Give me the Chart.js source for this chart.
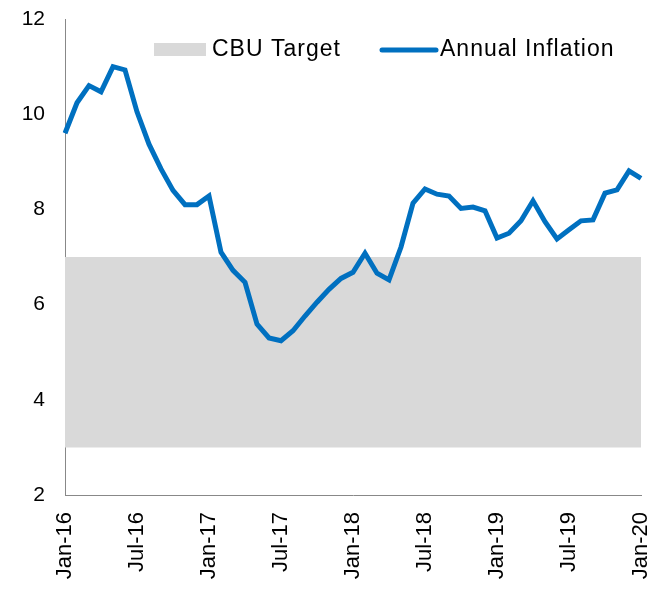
<!DOCTYPE html>
<html>
<head>
<meta charset="utf-8">
<script src="https://cdn.jsdelivr.net/npm/chart.js@4.4.1/dist/chart.umd.min.js"></script>
<style>
  html, body { margin: 0; padding: 0; background: #fff; }
  #wrap { width: 659px; height: 589px; }
</style>
</head>
<body>
<div id="wrap"><canvas id="inflationChart"></canvas></div>
<script>
const months = [
    'Jan-16', 'Feb-16', 'Mar-16', 'Apr-16', 'May-16', 'Jun-16', 'Jul-16', 'Aug-16', 'Sep-16', 'Oct-16', 'Nov-16', 'Dec-16',
    'Jan-17', 'Feb-17', 'Mar-17', 'Apr-17', 'May-17', 'Jun-17', 'Jul-17', 'Aug-17', 'Sep-17', 'Oct-17', 'Nov-17', 'Dec-17',
    'Jan-18', 'Feb-18', 'Mar-18', 'Apr-18', 'May-18', 'Jun-18', 'Jul-18', 'Aug-18', 'Sep-18', 'Oct-18', 'Nov-18', 'Dec-18',
    'Jan-19', 'Feb-19', 'Mar-19', 'Apr-19', 'May-19', 'Jun-19', 'Jul-19', 'Aug-19', 'Sep-19', 'Oct-19', 'Nov-19', 'Dec-19',
    'Jan-20'
];

const annualInflation = [
    9.6, 10.24, 10.6, 10.47, 11.0, 10.93, 10.05, 9.37, 8.85, 8.4, 8.1, 8.1,
    8.28, 7.1, 6.72, 6.47, 5.59, 5.3, 5.24, 5.45, 5.76, 6.05, 6.32, 6.55,
    6.68, 7.08, 6.66, 6.52, 7.21, 8.13, 8.43, 8.32, 8.28, 8.02, 8.05, 7.97,
    7.4, 7.5, 7.76, 8.18, 7.74, 7.38, 7.57, 7.76, 7.78, 8.34, 8.41, 8.81,
    8.65
];

// CBU target corridor (low, high)
const cbuTarget = [3, 7];

const yTicks = [2, 4, 6, 8, 10, 12];

const fontFamily = '"Liberation Sans", Arial, sans-serif';
const blue = '#0070C0';
const grey = '#D9D9D9';

// legend drawn inside the plot area, like the original
const insideLegend = {
    id: 'insideLegend',
    afterDraw(chart) {
        const ctx = chart.ctx;
        ctx.save();
        ctx.font = '23px ' + fontFamily;
        ctx.letterSpacing = '1px';
        ctx.textBaseline = 'middle';

        const y = 50;
        ctx.fillStyle = grey;
        ctx.fillRect(154, 43, 52, 13);
        ctx.fillStyle = '#000';
        ctx.fillText(chart.data.datasets[1].label, 212, y);

        ctx.strokeStyle = blue;
        ctx.lineWidth = 5;
        ctx.lineCap = 'round';
        ctx.beginPath();
        ctx.moveTo(382, y);
        ctx.lineTo(436, y);
        ctx.stroke();
        ctx.fillText(chart.data.datasets[0].label, 440, y);
        ctx.restore();
    }
};

const chart = new Chart(document.getElementById('inflationChart'), {
    type: 'line',
    data: {
        labels: months,
        datasets: [{
            label: 'Annual Inflation',
            data: annualInflation,
            borderColor: blue,
            borderWidth: 5,
            pointRadius: 0,
            tension: 0,
            fill: false
        }, {
            label: 'CBU Target',
            data: months.map(() => cbuTarget[1]),
            borderWidth: 0,
            borderColor: 'rgba(0,0,0,0)',
            backgroundColor: grey,
            pointRadius: 0,
            fill: '+1'
        }, {
            label: 'CBU Target low',
            data: months.map(() => cbuTarget[0]),
            borderWidth: 0,
            borderColor: 'rgba(0,0,0,0)',
            pointRadius: 0,
            fill: false
        }]
    },
    options: {
        responsive: true,
        maintainAspectRatio: false,
        animation: false,
        layout: {
            padding: { left: 22, right: 18, top: 19, bottom: 0 }
        },
        scales: {
            x: {
                offset: false,
                grid: { display: false, drawTicks: false },
                border: { display: true, color: '#888', width: 1 },
                ticks: {
                    autoSkip: false,
                    maxRotation: 90,
                    minRotation: 90,
                    padding: 17,
                    color: '#000',
                    font: { family: fontFamily, size: 22 },
                    callback: function (value, index) {
                        return index % 6 === 0 ? months[index] : '';
                    }
                },
                afterFit: function (axis) {
                    axis.paddingLeft = 0;
                    axis.paddingRight = 0;
                    axis.height = 94;
                }
            },
            y: {
                min: yTicks[0],
                max: yTicks[yTicks.length - 1],
                grid: { display: false, drawTicks: false },
                border: { display: true, color: '#888', width: 1 },
                afterBuildTicks: function (axis) {
                    axis.ticks = yTicks.map(v => ({ value: v }));
                },
                ticks: {
                    padding: 20,
                    color: '#000',
                    font: { family: fontFamily, size: 21 }
                },
                afterFit: function (axis) {
                    axis.paddingTop = 0;
                    axis.paddingBottom = 0;
                    axis.width = 43;
                }
            }
        },
        plugins: {
            legend: { display: false },
            tooltip: { enabled: false }
        }
    },
    plugins: [insideLegend]
});
</script>
</body>
</html>
